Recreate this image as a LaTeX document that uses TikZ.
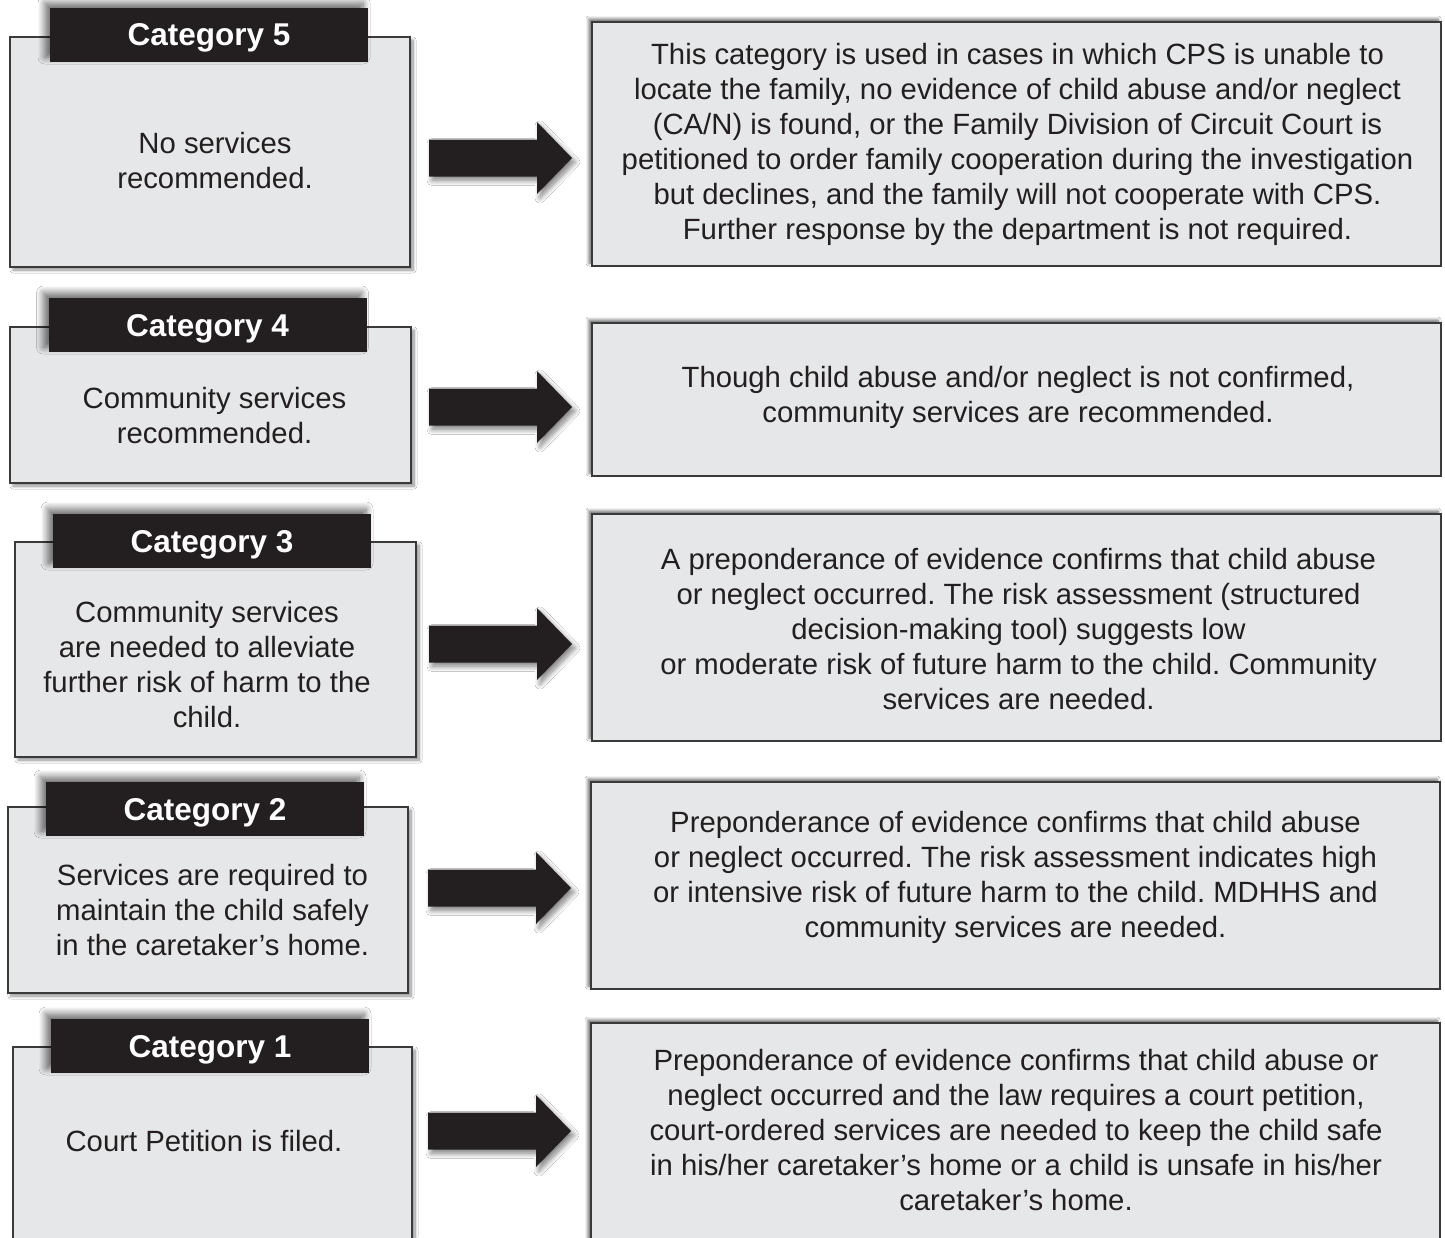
\documentclass[tikz,border=0pt]{standalone}
\usepackage{fontspec}
\setmainfont{Liberation Sans}
\usepackage{tikz}
\usetikzlibrary{shadows.blur}
\frenchspacing

\definecolor{boxgrey}{HTML}{E6E7E8}
\definecolor{inkblack}{HTML}{231F20}
\definecolor{rimgrey}{HTML}{3A3A3A}

\tikzset{
	catbox/.style={rectangle, fill=boxgrey, draw=rimgrey, line width=2pt,
		blur shadow={shadow xshift=3pt, shadow yshift=-3pt, shadow blur radius=3pt, shadow blur steps=10, shadow opacity=45}},
	catlabel/.style={rectangle, fill=inkblack, text=white, inner sep=0pt, text depth=0pt,
		minimum width=318pt, minimum height=54pt, font=\fontsize{31.5}{35}\selectfont\bfseries,
		blur shadow={shadow xshift=-5pt, shadow yshift=5pt, shadow blur radius=7pt, shadow blur steps=12, shadow opacity=60}},
	descbox/.style={rectangle, fill=boxgrey, draw=rimgrey, line width=2.5pt, minimum width=849pt,
		blur shadow={shadow xshift=-3pt, shadow yshift=3pt, shadow blur radius=3pt, shadow blur steps=10, shadow opacity=60}},
	boxtext/.style={align=center, text=inkblack, inner sep=0pt, font=\fontsize{29.3}{35}\selectfont},
	fatarrow/.pic={
		\fill[inkblack, blur shadow={shadow xshift=3pt, shadow yshift=-4pt, shadow blur radius=5pt, shadow blur steps=12, shadow opacity=50}]
			(-71,-18.5)--(37,-18.5)--(37,-36)--(72,0)--(37,36)--(37,18.5)--(-71,18.5)--cycle;
	}
}

\begin{document}
\begin{tikzpicture}[x=1pt, y=-1pt]
	\useasboundingbox (0,0) rectangle (1445,1237);
	\clip (0,0) rectangle (1445,1237);
	\fill[white] (0,0) rectangle (1445,1237);

	%CATEGORY 5
	\node[catbox, minimum width=400pt, minimum height=230pt] (c5) at (210,152) {};
	\node[catlabel] (l5) at (209,35) {Category 5};
	\node[boxtext] (t5) at (215,160.5) {No services\\recommended.};
	\node[descbox, minimum height=244pt] (d5) at (1016.5,144) {};
	\node[boxtext] (dt5) at (1017.5,144.5) {This category is used in cases in which CPS is unable to\\locate the family, no evidence of child abuse and/or neglect\\(CA/N) is found, or the Family Division of Circuit Court is\\petitioned to order family cooperation during the investigation\\but declines, and the family will not cooperate with CPS.\\Further response by the department is not required.};
	\coordinate (a5) at (500,158);
	\pic at (a5) {fatarrow};

	%CATEGORY 4
	\node[catbox, minimum width=401pt, minimum height=156pt] (c4) at (210.5,405) {};
	\node[catlabel] (l4) at (207.5,325) {Category 4};
	\node[boxtext] (t4) at (214.5,415.5) {Community services\\recommended.};
	\node[descbox, minimum height=153pt] (d4) at (1016.5,399.5) {};
	\node[boxtext] (dt4) at (1018,397) {Though child abuse and/or neglect is not confirmed,\\community services are recommended.};
	\coordinate (a4) at (500,407);
	\pic at (a4) {fatarrow};

	%CATEGORY 3
	\node[catbox, minimum width=401pt, minimum height=215pt] (c3) at (215.5,649.5) {};
	\node[catlabel] (l3) at (212,541) {Category 3};
	\node[boxtext] (t3) at (207,664.5) {Community services\\are needed to alleviate\\further risk of harm to the\\child.};
	\node[descbox, minimum height=227pt] (d3) at (1016.5,627.5) {};
	\node[boxtext] (dt3) at (1018.5,629) {A preponderance of evidence confirms that child abuse\\or neglect occurred. The risk assessment (structured\\decision-making tool) suggests low\\or moderate risk of future harm to the child. Community\\services are needed.};
	\coordinate (a3) at (500,644);
	\pic at (a3) {fatarrow};

	%CATEGORY 2
	\node[catbox, minimum width=400pt, minimum height=186pt] (c2) at (208,900) {};
	\node[catlabel] (l2) at (205,809) {Category 2};
	\node[boxtext] (t2) at (212.5,910) {Services are required to\\maintain the child safely\\in the caretaker’s home.};
	\node[descbox, minimum height=207pt] (d2) at (1015.5,885.5) {};
	\node[boxtext] (dt2) at (1015.5,877.5) {Preponderance of evidence confirms that child abuse\\or neglect occurred. The risk assessment indicates high\\or intensive risk of future harm to the child. MDHHS and\\community services are needed.};
	\coordinate (a2) at (499,888);
	\pic at (a2) {fatarrow};

	%CATEGORY 1
	\node[catbox, minimum width=399pt, minimum height=198pt] (c1) at (212.5,1146) {};
	\node[catlabel] (l1) at (210,1046) {Category 1};
	\node[boxtext] (t1) at (204,1141) {Court Petition is filed.};
	\node[descbox, minimum height=222pt] (d1) at (1015.5,1134) {};
	\node[boxtext] (dt1) at (1016,1130) {Preponderance of evidence confirms that child abuse or\\neglect occurred and the law requires a court petition,\\court-ordered services are needed to keep the child safe\\in his/her caretaker’s home or a child is unsafe in his/her\\caretaker’s home.};
	\coordinate (a1) at (499,1131);
	\pic at (a1) {fatarrow};
\end{tikzpicture}
\end{document}
